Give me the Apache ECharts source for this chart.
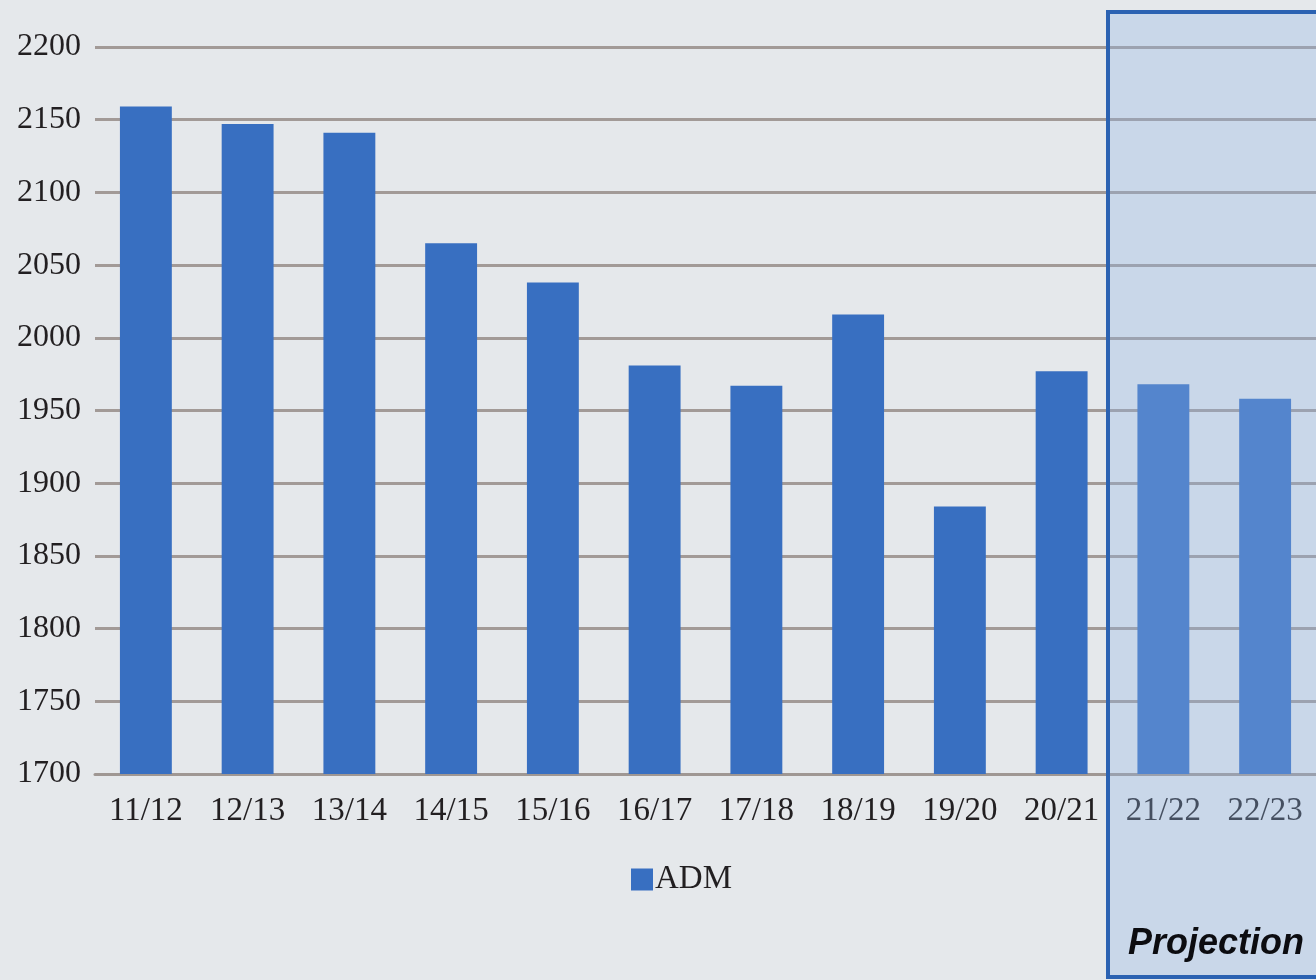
<!DOCTYPE html>
<html>
<head>
<meta charset="utf-8">
<script src="https://cdn.jsdelivr.net/npm/echarts@6/dist/echarts.min.js"></script>
<style>
html,body{margin:0;padding:0;background:#e5e8eb;}
#c{width:1316px;height:980px;}
</style>
</head>
<body>
<div id="c"></div>
<script>
const categories = ['11/12','12/13','13/14','14/15','15/16','16/17','17/18','18/19','19/20','20/21','21/22','22/23'];
const admValues = [2159, 2147, 2141, 2065, 2038, 1981, 1967, 2016, 1884, 1977, 1968, 1958];
const seriesName = 'ADM';
const yMin = 1700, yMax = 2200, yStep = 50;
const projectionLabel = 'Projection';

const chart = echarts.init(document.getElementById('c'));
chart.setOption({
  backgroundColor: '#e5e8eb',
  animation: false,
  grid: {left: 95, right: -3, top: 47, bottom: 206, containLabel: false},
  legend: {
    data: [seriesName], top: 858, left: 626, itemWidth: 22, itemHeight: 22, itemGap: 4,
    icon: 'rect',
    textStyle: {fontFamily: 'Liberation Serif', fontSize: 33, color: '#221f21', padding: [0,0,0,-3]}
  },
  xAxis: {
    type: 'category', data: categories,
    axisLine: {show: true, lineStyle: {color: '#9f9793', width: 3}},
    axisTick: {show: false},
    axisLabel: {fontFamily: 'Liberation Serif', fontSize: 33, color: '#221f21', margin: 21}
  },
  yAxis: {
    type: 'value', min: yMin, max: yMax, interval: yStep,
    axisLine: {show: false}, axisTick: {show: false},
    axisLabel: {fontFamily: 'Liberation Serif', fontSize: 32, color: '#221f21', margin: 14,
      formatter: v => String(v)},
    splitLine: {lineStyle: {color: '#a29a97', width: 3}}
  },
  series: [{
    name: seriesName, type: 'bar', data: admValues, barWidth: '51%',
    itemStyle: {color: '#386fc1'}
  }],
  graphic: [
    {type: 'rect', left: 1106, top: 10, z: 100,
     shape: {width: 260, height: 965},
     style: {fill: 'rgba(143,179,230,0.32)', stroke: '#2b62b2', lineWidth: 4}},
    {type: 'text', left: 1128, top: 926, z: 101,
     style: {text: projectionLabel, font: 'italic bold 36px "Liberation Sans"', fill: '#0c0c10'}}
  ]
});
</script>
</body>
</html>
